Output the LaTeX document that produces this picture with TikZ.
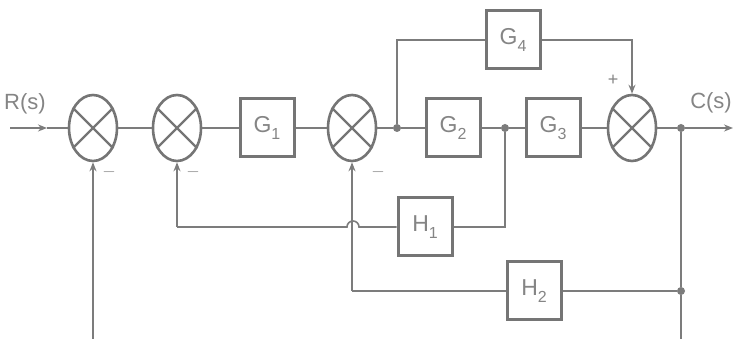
\documentclass[tikz,border=0pt]{standalone}
\usepackage{fontspec}
\setmainfont{Liberation Sans}
\usetikzlibrary{shapes.geometric,arrows.meta,calc}
\definecolor{linegray}{HTML}{7C7C7C}
\definecolor{boxgray}{HTML}{757575}
\definecolor{txtgray}{HTML}{858585}
\newcommand{\blk}[2]{#1\raisebox{-7pt}{\fontsize{16}{16}\selectfont #2}}
\begin{document}
\begin{tikzpicture}[x=1pt,y=1pt,
  wire/.style={draw=linegray,line width=1.6pt},
  arr/.style={wire,-{Stealth[length=9pt,width=7pt]}},
  block/.style={draw=boxgray,line width=3pt,rectangle,minimum width=54pt,
    minimum height=58pt,inner sep=0pt,text=txtgray,font=\fontsize{23}{23}\selectfont},
  summer/.style={draw=boxgray,line width=2.6pt,ellipse,minimum width=48pt,
    minimum height=66pt,inner sep=0pt},
  junction/.style={circle,fill=linegray,minimum size=8pt,inner sep=0pt},
  lbl/.style={text=txtgray,font=\fontsize{22}{22}\selectfont,inner sep=0pt},
  sgn/.style={text=txtgray,font=\fontsize{18}{18}\selectfont,inner sep=0pt}]
\fill[white] (0,0) rectangle (733,339);
\useasboundingbox (0,0) rectangle (733,339);

% summing junctions
\node[summer] (s1) at (93,211) {};
\node[summer] (s2) at (177,211) {};
\node[summer] (s3) at (352,211) {};
\node[summer] (s4) at (632,211) {};
\foreach \s in {s1,s2,s3,s4}{
  \draw[draw=boxgray,line width=2.4pt] (\s.45) -- (\s.225) (\s.135) -- (\s.-45);
}

% blocks
\node[block] (g1) at (267,211) {\blk{G}{1}};
\node[block] (g2) at (453,211) {\blk{G}{2}};
\node[block] (g3) at (553,211) {\blk{G}{3}};
\node[block] (g4) at (513,299) {\blk{G}{4}};
\node[block] (h1) at (425,112) {\blk{H}{1}};
\node[block] (h2) at (534,48) {\blk{H}{2}};

% branch points
\node[junction] (d1) at (397,211) {};
\node[junction] (d2) at (505,211) {};
\node[junction] (d3) at (681,211) {};
\node[junction] (d4) at (681,48) {};

% input and output ends
\coordinate (rin) at (10,211);
\coordinate (rmid) at (47,211);
\coordinate (cout) at (733,211);
\coordinate (b1) at (93,0);
\coordinate (b3) at (681,0);
\coordinate (h1l) at (177,112);
\coordinate (hopr) at (359,112);
\coordinate (h2l) at (352,48);

% forward path
\draw[arr] (rin) -- (rmid);
\draw[wire] (rmid) -- (s1.west);
\draw[wire] (s1.east) -- (s2.west);
\draw[wire] (s2.east) -- (g1.west);
\draw[wire] (g1.east) -- (s3.west);
\draw[wire] (s3.east) -- (d1) -- (g2.west);
\draw[wire] (g2.east) -- (d2) -- (g3.west);
\draw[wire] (g3.east) -- (s4.west);
\draw[arr] (s4.east) -- (d3) -- (cout);

% feed-forward through G4
\draw[wire] (d1) |- (g4.west);
\draw[arr] (g4.east) -| (s4.north);

% feedback through H1, hopping over the H2 return
\draw[wire] (d2) |- (h1.east);
\draw[wire] (h1.west) -- (hopr) arc[start angle=0,end angle=180,radius=6pt] -- (h1l);
\draw[arr] (h1l) -- (s2.south);

% feedback through H2
\draw[wire] (d3) -- (d4) -- (b3);
\draw[wire] (d4) -- (h2.east);
\draw[wire] (h2.west) -- (h2l);
\draw[arr] (h2l) -- (s3.south);

% unity feedback
\draw[arr] (b1) -- (s1.south);

% labels
\node[lbl] (rl) at (25,235) {R(s)};
\node[lbl,anchor=east] (cl) at (732,236) {C(s)};
\node[sgn] (m1) at (109,167) {$-$};
\node[sgn] (m2) at (193,167) {$-$};
\node[sgn] (m3) at (378,167) {$-$};
\node[sgn] (p4) at (613,259) {+};
\end{tikzpicture}
\end{document}
